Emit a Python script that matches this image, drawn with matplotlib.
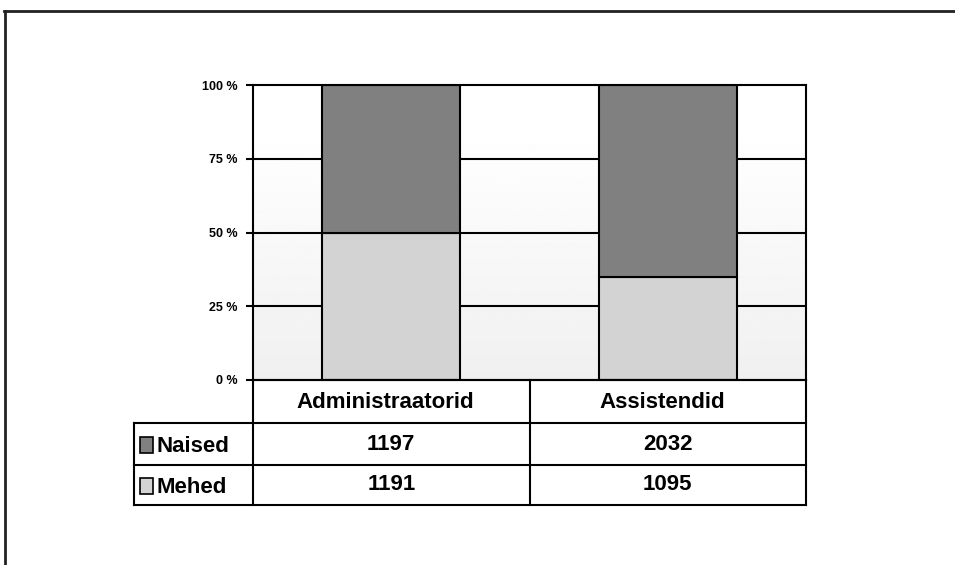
import matplotlib
matplotlib.use("Agg")
import matplotlib.pyplot as plt
import numpy as np
from matplotlib.patches import Rectangle
from matplotlib.lines import Line2D

categories = ["Administraatorid", "Assistendid"]
series_names = ["Naised", "Mehed"]
naised = [1197, 2032]
mehed = [1191, 1095]
tick_vals = [0, 0.25, 0.5, 0.75, 1.0]
tick_labels = ["0 %", "25 %", "50 %", "75 %", "100 %"]

col_naised = "#808080"
col_mehed = "#d3d3d3"

plt.rcParams['font.family'] = ['Liberation Sans', 'DejaVu Sans']

W, H = 955, 565
fig = plt.figure(figsize=(W / 100, H / 100), dpi=100)
fig.patch.set_facecolor("white")

# outer frame (top and left only)
fig.add_artist(Line2D([4 / W, 1], [1 - 11 / H, 1 - 11 / H], color="#222222", lw=2))
fig.add_artist(Line2D([5 / W, 5 / W], [0, 1 - 11 / H], color="#222222", lw=2))

x0, x1 = 253, 806
y_top, y_bot = 85, 380
ax = fig.add_axes([x0 / W, 1 - y_bot / H, (x1 - x0) / W, (y_bot - y_top) / H])
ax.set_xlim(-0.5, len(categories) - 0.5)
ax.set_ylim(0, 1)

# background gradient
grad = np.clip(np.linspace(0.94, 1.01, 256), 0, 1).reshape(-1, 1)
ax.imshow(grad, extent=[-0.5, len(categories) - 0.5, 0, 1], origin="lower",
          cmap="gray", vmin=0, vmax=1, aspect="auto", zorder=0)

tot = np.array(naised) + np.array(mehed)
m_frac = np.array(mehed) / tot
n_frac = np.array(naised) / tot
xs = np.arange(len(categories))

for y in [0.25, 0.5, 0.75]:
    ax.axhline(y, color="black", lw=1.5, zorder=1)

ax.bar(xs, m_frac, width=0.5, color=col_mehed, edgecolor="black", lw=1.5, zorder=2)
ax.bar(xs, n_frac, bottom=m_frac, width=0.5, color=col_naised, edgecolor="black", lw=1.5, zorder=2)

ax.set_yticks(tick_vals)
ax.set_yticklabels(tick_labels, fontsize=9, fontweight="bold")
ax.set_xticks([])
ax.tick_params(axis="y", length=5, width=1.5, direction="out", pad=6)
for s in ax.spines.values():
    s.set_color("black")
    s.set_linewidth(1.5)

# data table below
ty0, ty1 = 380, 505
tab = fig.add_axes([x0 / W, 1 - ty1 / H, (x1 - x0) / W, (ty1 - ty0) / H], sharex=ax)
tab.set_ylim(3, 0)
tab.axis("off")
xl = -0.5 - (x0 - 134) / ((x1 - x0) / len(categories))
row_h = [0, 43 / 125 * 3, 85 / 125 * 3, 3]
lw = 1.5
kw = dict(color="black", lw=lw, clip_on=False, solid_capstyle="projecting")
# vertical lines
for xv in np.arange(-0.5, len(categories), 1.0):
    tab.plot([xv, xv], [0, 3], **kw)
tab.plot([xl, xl], [row_h[1], 3], **kw)
# horizontal lines
tab.plot([-0.5, len(categories) - 0.5], [0, 0], **kw)
for r in row_h[1:]:
    tab.plot([xl, len(categories) - 0.5], [r, r], **kw)

for i, c in enumerate(categories):
    tab.text(i - 0.02, (row_h[0] + row_h[1]) / 2 + 0.03, c, ha="center", va="center",
             fontsize=16, fontweight="bold")
rows = [naised, mehed]
cols = [col_naised, col_mehed]
for r, (name, vals, col) in enumerate(zip(series_names, rows, cols)):
    yc = (row_h[r + 1] + row_h[r + 2]) / 2
    tab.add_patch(Rectangle((xl + 0.02, yc - 0.17), 0.048, 0.38, facecolor=col,
                            edgecolor="black", lw=1.2, clip_on=False))
    tab.text(xl + 0.08, yc + 0.07, name, ha="left", va="center", fontsize=16, fontweight="bold")
    for i, v in enumerate(vals):
        tab.text(i, yc, str(v), ha="center", va="center", fontsize=16, fontweight="bold")

fig.savefig("out.png", dpi=100)
